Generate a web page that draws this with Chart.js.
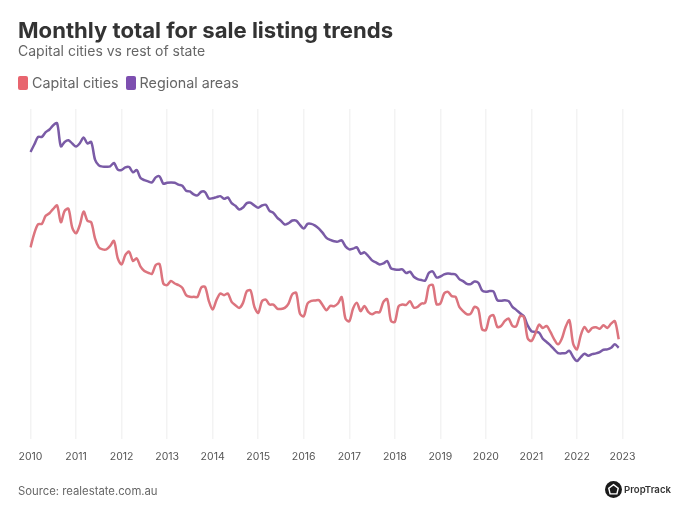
<!DOCTYPE html>
<html>
<head>
<meta charset="utf-8">
<script src="https://cdn.jsdelivr.net/npm/chart.js@4"></script>
<style>
  body { margin: 0; background: #fff; font-family: "Inter", sans-serif; }
  #wrap { position: relative; width: 697px; height: 523px; }
  #legend { position: absolute; left: 18px; top: 74.5px; display: flex; font-size: 14.3px; line-height: 16px; color: #666; }
  #legend div { display: flex; align-items: center; margin-right: 7px; }
  #legend i { width: 10px; height: 14px; border-radius: 2px; margin-right: 4px; }
  #source { position: absolute; left: 18px; top: 484px; font-size: 11.3px; color: #666; }
  #logo { position: absolute; left: 605px; top: 481px; display: flex; align-items: center; }
  #logo span { margin-left: 2px; font-size: 9.6px; font-weight: 600; color: #333; }
</style>
</head>
<body>
<div id="wrap">
  <canvas id="chart" width="697" height="523"></canvas>
  <div id="legend"></div>
  <div id="source">Source: realestate.com.au</div>
  <div id="logo">
    <svg width="17" height="17" viewBox="0 0 18 18">
      <circle cx="9" cy="9" r="9" fill="#1a1a1a"/>
      <path d="M9 3.8 L14 7.6 L12.6 13.6 H5.4 L4 7.6 Z" fill="none" stroke="#fff" stroke-width="1.5"/>
    </svg>
    <span>PropTrack</span>
  </div>
</div>
<script>
// Years on the axis, data runs monthly Jan 2010 - Dec 2022
const years = [2010, 2011, 2012, 2013, 2014, 2015, 2016, 2017, 2018, 2019, 2020, 2021, 2022, 2023];

// Values, no axis in the original so the unit is arbitrary
const capitalCities = [
  191.3, 205.3, 214.3, 214.7, 222.7, 225.3, 229.7, 233, 216.3, 227.7, 229.7, 211,
  205.3, 213.7, 227, 217.7, 216.3, 200.3, 191.3, 189.3, 189.3, 192.7, 197.7, 180.3,
  174.3, 183.7, 187, 177.7, 180.3, 172, 167.7, 166, 165, 173.7, 174.7, 155.3,
  153.7, 157.7, 155.3, 153.7, 151, 143.7, 142, 142, 142, 151.3, 152, 137.7,
  129.3, 138.7, 145.3, 143.7, 145.3, 137, 133.7, 131, 136, 147.7, 148.3, 132,
  126, 137.7, 139.3, 134.3, 134.3, 130.3, 130, 131, 135.3, 144.7, 146, 125.3,
  122.7, 135.3, 138, 138.3, 138.7, 133.7, 128.7, 133, 132.7, 135.3, 141.7, 120.3,
  117.7, 130.3, 136, 127.7, 133, 127, 124.7, 126.7, 126.7, 137, 139.7, 118,
  117, 132.7, 134.3, 134, 137.7, 131.3, 132, 135.3, 136, 152.7, 153.7, 134.7,
  135.3, 145.3, 147, 142.7, 142, 132, 127.7, 124.7, 125.3, 132, 129.7, 109.7,
  109, 122, 123.7, 112, 113, 118, 120.3, 113, 112.7, 122.7, 122, 101,
  98, 105.3, 114.3, 111, 113, 107, 99.7, 94.7, 100.3, 112, 118.7, 95.3,
  89.7, 103.7, 112, 107, 111, 111.7, 110.3, 113.7, 111, 115.3, 117.7, 99.7
];
const regionalAreas = [
  286.3, 293.7, 301.3, 301.3, 306, 308.7, 313, 315, 292, 296.3, 298, 294.7,
  291.7, 295, 300.7, 294.7, 296.3, 278.7, 273, 271.7, 271.7, 272, 275.3, 268.7,
  268.3, 271, 271.3, 266, 268.3, 260.3, 258.3, 257, 256, 261, 262, 254.7,
  255.7, 256, 255.7, 253.7, 252.7, 247.7, 247, 244, 243, 246.7, 246.3, 240,
  240.3, 241.3, 242.3, 239.7, 241, 235.3, 232.7, 229, 231, 235.3, 235.7, 233,
  230.7, 233, 233.7, 227.7, 225.7, 221, 217.7, 214, 215.3, 218, 218, 213.7,
  210, 214.7, 214.7, 213, 210, 205.7, 200.7, 198.7, 197.3, 197, 198.3, 192.3,
  189.3, 190, 191.3, 185, 186.3, 182.7, 178.3, 176.3, 174.3, 175.3, 177.7, 170.3,
  169.3, 169, 169.3, 165.7, 167, 162, 159.7, 158.7, 158.3, 166, 167.3, 161.3,
  162.3, 164.3, 165.3, 164.7, 164.3, 159.7, 157.7, 155, 154.7, 157.3, 156, 148.3,
  147, 147.7, 147.3, 138.7, 138, 138.7, 137.7, 132, 129, 125.7, 122.7, 113.7,
  107.7, 107, 106.3, 100.3, 97, 93.7, 89.7, 86, 85.7, 86, 88.3, 82,
  78, 82, 85.3, 83.3, 85, 85.7, 87, 89.3, 89.7, 91.3, 94.7, 91.3
];

// One label per month plus Jan 2023 so the last tick exists
const labels = [];
years.forEach((year) => {
  for (let m = 0; m < 12; m++) {
    if (year === 2023 && m > 0) break;
    labels.push(m === 0 ? String(year) : year + "-" + (m + 1));
  }
});

const fontFamily = "Inter";

const chart = new Chart(document.getElementById("chart"), {
  type: "line",
  data: {
    labels: labels,
    datasets: [
      {
        label: "Capital cities",
        data: capitalCities,
        borderColor: "#dc747e",
        backgroundColor: "#e8656f",
        borderWidth: 2.5,
        pointRadius: 0,
        tension: 0.3,
      },
      {
        label: "Regional areas",
        data: regionalAreas,
        borderColor: "#7a5ba6",
        backgroundColor: "#7d4fb0",
        borderWidth: 2.5,
        pointRadius: 0,
        tension: 0.3,
      },
    ],
  },
  options: {
    responsive: false,
    animation: false,
    layout: { padding: { left: 18, right: 74.5, top: 19, bottom: 49 } },
    scales: {
      x: {
        offset: false,
        afterBuildTicks: (axis) => {
          axis.ticks = axis.ticks.filter((t) => /^\d{4}$/.test(labels[t.value]));
        },
        ticks: {
          autoSkip: false,
          maxRotation: 0,
          color: "#555",
          padding: 11,
          font: { family: fontFamily, size: 10.5 },
        },
        grid: { color: "#f3f3f3", lineWidth: 1.5, drawTicks: false },
        border: { display: false },
      },
      y: {
        min: 0,
        max: 329,
        ticks: { display: false },
        grid: { display: false },
        border: { display: false },
        afterFit: (axis) => {
          axis.width = 12.5;
        },
      },
    },
    plugins: {
      title: {
        display: true,
        text: "Monthly total for sale listing trends",
        align: "start",
        color: "#333",
        font: { family: fontFamily, size: 22.1, weight: "700", lineHeight: 1.1 },
        padding: 0,
      },
      subtitle: {
        display: true,
        text: "Capital cities vs rest of state",
        align: "start",
        color: "#666",
        font: { family: fontFamily, size: 14, weight: "400" },
        padding: { top: 0, bottom: 49 },
      },
      legend: { display: false },
      tooltip: { enabled: false },
    },
  },
});

// Legend sits in the page so the swatch and text spacing can follow the original
document.getElementById("legend").innerHTML = chart.data.datasets
  .map((d) => `<div><i style="background:${d.backgroundColor}"></i>${d.label}</div>`)
  .join("");
</script>
</body>
</html>
